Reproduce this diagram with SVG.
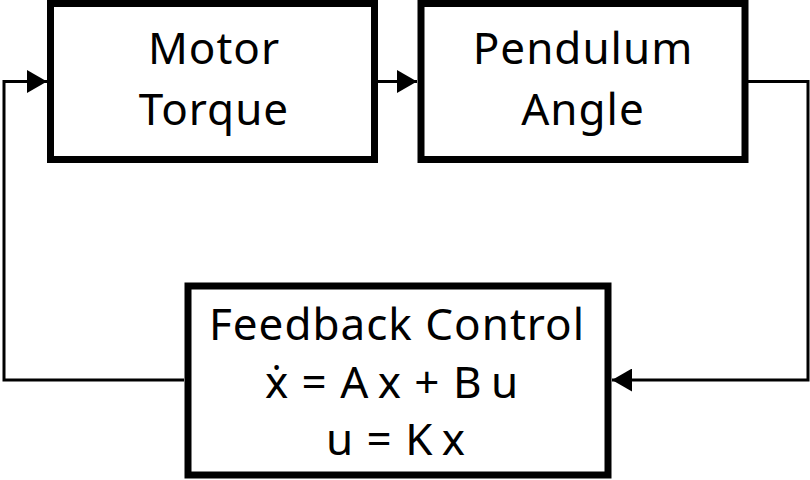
<svg xmlns="http://www.w3.org/2000/svg" width="810" height="480" viewBox="0 0 810 480">
<style>
.box{fill:#fff;stroke:#000;stroke-width:7}
.lbl{font-family:"Noto Sans","Open Sans",sans-serif;font-size:44px;letter-spacing:1px;fill:#000;text-anchor:middle}
.conn{fill:none;stroke:#000;stroke-width:3}
</style>
<defs>
<marker id="arr" viewBox="0 0 20 23" refX="20" refY="11.5" markerWidth="20" markerHeight="23" markerUnits="userSpaceOnUse" orient="auto">
<path d="M0,0 L20,11.5 L0,23 z" fill="#000"/>
</marker>
</defs>
<rect width="810" height="480" fill="#fff"/>
<g id="connectors">
<path class="conn" d="M184,380 H4 V81.5 H47" marker-end="url(#arr)"/>
<path class="conn" d="M378,81.5 H417" marker-end="url(#arr)"/>
<path class="conn" d="M748,81.5 H808 V380 H612" marker-end="url(#arr)"/>
</g>
<g id="motor">
<rect class="box" x="50.5" y="3.5" width="324" height="156"/>
<text class="lbl" x="214" y="64">Motor</text>
<text class="lbl" x="214" y="125">Torque</text>
</g>
<g id="pendulum">
<rect class="box" x="421" y="3.5" width="324" height="156"/>
<text class="lbl" x="583" y="64">Pendulum</text>
<text class="lbl" x="583" y="125">Angle</text>
</g>
<g id="feedback">
<rect class="box" x="188" y="286" width="420" height="189"/>
<text class="lbl" x="392" y="398">ẋ = A&#8201;x + B&#8201;u</text>
<text class="lbl" x="397" y="340">Feedback Control</text>
<text class="lbl" x="396" y="455">u = K&#8201;x</text>
</g>
</svg>
